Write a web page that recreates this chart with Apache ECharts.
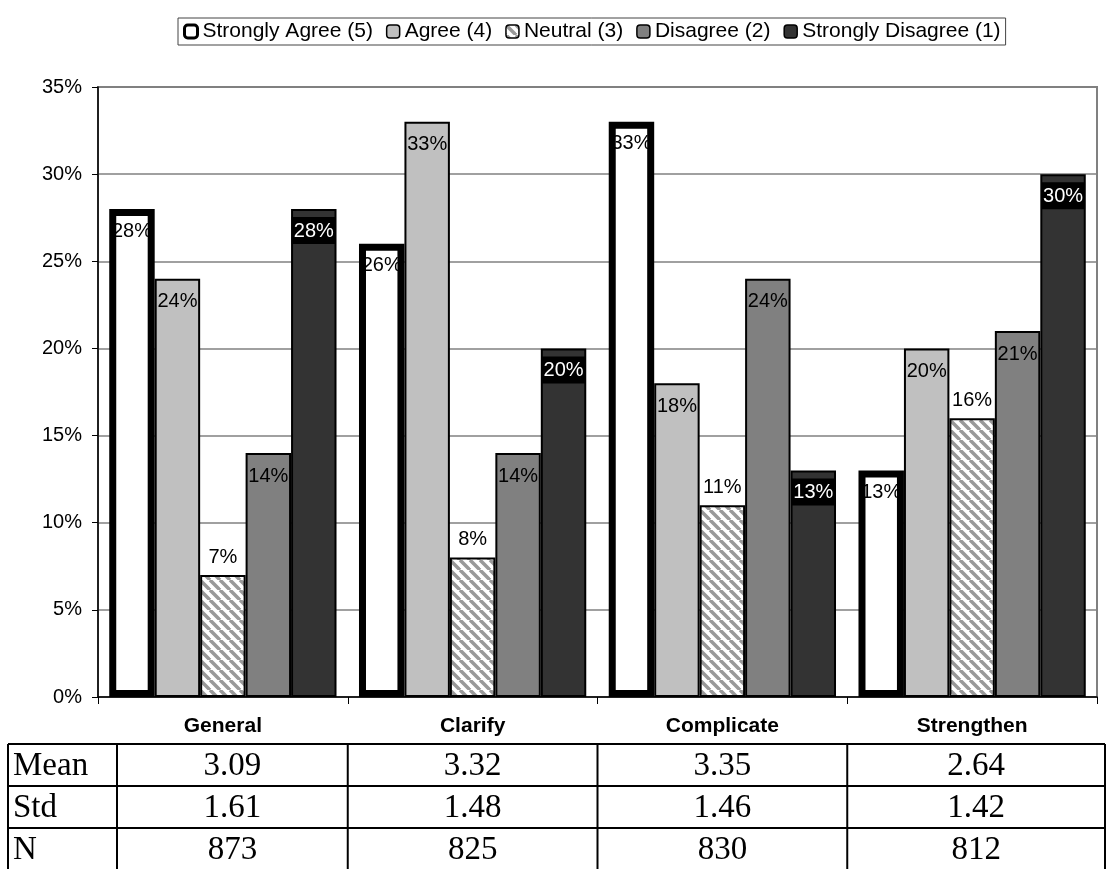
<!DOCTYPE html>
<html><head><meta charset="utf-8">
<script src="https://cdn.jsdelivr.net/npm/echarts@6/dist/echarts.min.js"></script>
<style>html,body{margin:0;padding:0;background:#fff}#c{width:1107px;height:869px}</style>
</head><body><div id="c"></div>
<script>
const categories = ['General', 'Clarify', 'Complicate', 'Strengthen'];
const seriesNames = ['Strongly Agree (5)', 'Agree (4)', 'Neutral (3)', 'Disagree (2)', 'Strongly Disagree (1)'];
const stronglyAgree = [28, 26, 33, 13];
const agree = [24, 33, 18, 20];
const neutral = [7, 8, 11, 16];
const disagree = [14, 14, 24, 21];
const stronglyDisagree = [28, 20, 13, 30];
const yTicks = [0, 5, 10, 15, 20, 25, 30, 35];
const rowLabels = ['Mean', 'Std', 'N'];
const meanValues = ['3.09', '3.32', '3.35', '2.64'];
const stdValues = ['1.61', '1.48', '1.46', '1.42'];
const nValues = ['873', '825', '830', '812'];

function hatch() {
  const c = document.createElement('canvas'); c.width = 10; c.height = 10;
  const g = c.getContext('2d');
  g.fillStyle = '#fff'; g.fillRect(0, 0, 10, 10);
  g.strokeStyle = '#999'; g.lineWidth = 3.5;
  for (const o of [-10, 0, 10]) { g.beginPath(); g.moveTo(o, 0); g.lineTo(o + 10, 10); g.stroke(); }
  return c;
}
const hatchFill = { image: hatch(), repeat: 'repeat' };

const FONT = 'Liberation Sans, Arial, sans-serif';
const baseLabel = { show: true, formatter: '{c}%', fontFamily: FONT, fontSize: 20, color: '#000' };
const styles = [
  { itemStyle: { color: '#fff', borderColor: '#000', borderWidth: 7 }, label: Object.assign({}, baseLabel, { position: 'insideTop', distance: 12 }) },
  { itemStyle: { color: '#c0c0c0', borderColor: '#000', borderWidth: 2 }, label: Object.assign({}, baseLabel, { position: 'insideTop', distance: 13 }) },
  { itemStyle: { color: hatchFill, borderColor: '#000', borderWidth: 2 }, label: Object.assign({}, baseLabel, { position: 'top', distance: 8 }) },
  { itemStyle: { color: '#808080', borderColor: '#000', borderWidth: 2 }, label: Object.assign({}, baseLabel, { position: 'insideTop', distance: 13 }) },
  { itemStyle: { color: '#333333', borderColor: '#000', borderWidth: 2 }, label: Object.assign({}, baseLabel, { position: 'insideTop', distance: 8, color: '#fff', backgroundColor: '#000', padding: [4, 2, 3, 2] }) }
];
const values = [stronglyAgree, agree, neutral, disagree, stronglyDisagree];

const chart = echarts.init(document.getElementById('c'));
const option = {
  animation: false,
  backgroundColor: '#fff',
  legend: {
    top: 18, left: 178,
    padding: [3, 5, 3, 5],
    borderColor: '#444', borderWidth: 1,
    itemWidth: 13, itemHeight: 13, itemGap: 13,
    textStyle: { fontFamily: FONT, fontSize: 21, color: '#000' },
    data: seriesNames.map((n, i) => ({
      name: n,
      itemStyle: i === 0 ? { color: '#fff', borderColor: '#000', borderWidth: 3 } :
        { color: styles[i].itemStyle.color, borderColor: '#000', borderWidth: 1.5 }
    }))
  },
  grid: { left: 98, right: 10, top: 87, bottom: 172, show: true, borderColor: '#808080', borderWidth: 2 },
  xAxis: {
    type: 'category', data: categories,
    axisLine: { lineStyle: { color: '#000', width: 1.5 } },
    axisTick: { show: true, length: 7, lineStyle: { color: '#000' } },
    axisLabel: { fontFamily: FONT, fontSize: 21, fontWeight: 'bold', color: '#000', margin: 19 }
  },
  yAxis: {
    type: 'value', min: yTicks[0], max: yTicks[yTicks.length - 1], interval: yTicks[1] - yTicks[0],
    axisLine: { show: true, lineStyle: { color: '#000', width: 1.5 } },
    axisTick: { show: true, length: 6, lineStyle: { color: '#000' } },
    axisLabel: { formatter: '{value}%', fontFamily: FONT, fontSize: 20, color: '#000', margin: 16 },
    splitLine: { lineStyle: { color: '#808080', width: 1.5 } }
  },
  series: seriesNames.map((n, i) => ({
    name: n, type: 'bar', data: values[i],
    barGap: '0%', barCategoryGap: '9%',
    itemStyle: styles[i].itemStyle,
    label: styles[i].label
  }))
};
chart.setOption(option);

// table below chart
const c0 = chart.convertToPixel({ xAxisIndex: 0 }, 0);
const c1 = chart.convertToPixel({ xAxisIndex: 0 }, 1);
const band = c1 - c0;
const bounds = [8, 117];
for (let i = 1; i <= categories.length; i++) bounds.push(c0 - band / 2 + band * i);
bounds[bounds.length - 1] = 1105;
const tableTop = 744, rowH = 42;
const rows = [meanValues, stdValues, nValues];
const graphics = [];
const ls = { stroke: '#000', lineWidth: 2 };
const tfont = '33px "Liberation Serif", "Times New Roman", serif';
for (let r = 0; r <= rows.length; r++) {
  graphics.push({ type: 'line', shape: { x1: bounds[0], y1: tableTop + r * rowH, x2: bounds[bounds.length - 1], y2: tableTop + r * rowH }, style: ls });
}
bounds.forEach(x => graphics.push({ type: 'line', shape: { x1: x, y1: tableTop, x2: x, y2: tableTop + rows.length * rowH }, style: ls }));
rows.forEach((vals, r) => {
  const cy = tableTop + r * rowH + rowH / 2 + 1;
  graphics.push({ type: 'text', x: bounds[0] + 5, y: cy, style: { text: rowLabels[r], font: tfont, fill: '#000', textAlign: 'left', textVerticalAlign: 'middle' } });
  vals.forEach((v, c) => {
    const cx = (bounds[c + 1] + bounds[c + 2]) / 2;
    graphics.push({ type: 'text', x: cx, y: cy, style: { text: v, font: tfont, fill: '#000', textAlign: 'center', textVerticalAlign: 'middle' } });
  });
});
chart.setOption({ graphic: graphics });
</script>
</body></html>
